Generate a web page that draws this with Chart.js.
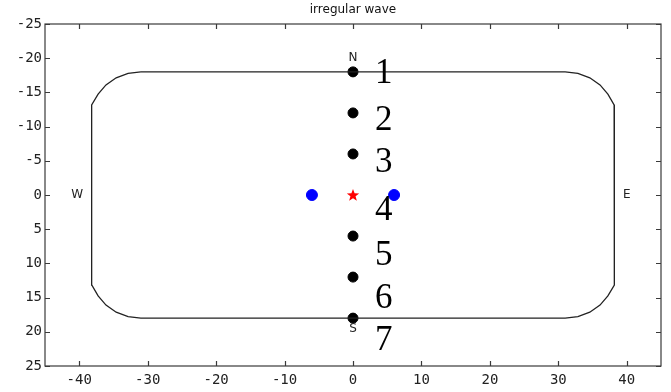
<!DOCTYPE html>
<html>
<head>
<meta charset="utf-8">
<script src="https://cdn.jsdelivr.net/npm/chart.js@4"></script>
<style>
  html, body { margin: 0; padding: 0; background: #fff; }
  #wrap { width: 671px; height: 392px; }
</style>
</head>
<body>
<div id="wrap"><canvas id="grafico" width="671" height="392"></canvas></div>
<script>
// DADOS
const titulo = "irregular wave";
const xTicks = [-40, -30, -20, -10, 0, 10, 20, 30, 40];
const yTicks = [-25, -20, -15, -10, -5, 0, 5, 10, 15, 20, 25];

// contorno da bacia (cantos arredondados)
const outlineX = [-31, 31, 32.86, 34.6, 36.09, 37.24, 38.15, 38.2,
  38.2, 38.15, 37.24, 36.09, 34.6, 32.86, 31,
  -31, -32.86, -34.6, -36.09, -37.24, -38.15, -38.2,
  -38.2, -38.15, -37.24, -36.09, -34.6, -32.86, -31];
const outlineY = [-18, -18, -17.78, -17.13, -16.1, -14.75, -13.18, -11.5,
  11.5, 13.18, 14.75, 16.1, 17.13, 17.78, 18,
  18, 17.78, 17.13, 16.1, 14.75, 13.18, 11.5,
  -11.5, -13.18, -14.75, -16.1, -17.13, -17.78, -18];

// sondas (pontos pretos)
const probeX = [0, 0, 0, 0, 0, 0];
const probeY = [-18, -12, -6, 6, 12, 18];

// pontos azuis
const blueX = [-6, 6];
const blueY = [0, 0];

// fonte (estrela vermelha)
const starX = [0];
const starY = [0];

// numeros ao lado das sondas
const numLabels = ["1", "2", "3", "4", "5", "6", "7"];
const numX = [4.5, 4.5, 4.5, 4.5, 4.5, 4.5, 4.5];
const numY = [-17.8, -11, -4.8, 2.1, 8.8, 15, 21.2];

// pontos cardeais
const dirLabels = ["N", "S", "W", "E"];
const dirX = [0, 0, -40.3, 40];
const dirY = [-20.1, 19.6, 0, 0];

function pts(xs, ys) {
  return xs.map((x, i) => ({ x: x, y: ys[i] }));
}

// estrela vermelha de 5 pontas
const starImg = document.createElement("canvas");
starImg.width = 14;
starImg.height = 14;
(function () {
  const c = starImg.getContext("2d");
  c.fillStyle = "#ff0000";
  c.beginPath();
  for (let i = 0; i < 10; i++) {
    const r = i % 2 === 0 ? 6.5 : 2.7;
    const a = -Math.PI / 2 + i * Math.PI / 5;
    const px = 7 + r * Math.cos(a);
    const py = 7.5 + r * Math.sin(a);
    if (i === 0) c.moveTo(px, py); else c.lineTo(px, py);
  }
  c.closePath();
  c.fill();
})();

const tickFamily = '"DejaVu Sans Mono", "Liberation Mono", monospace';

// moldura, marcas internas, titulo e textos
const extras = {
  id: "extras",
  afterDatasetsDraw(chart) {
    const ctx = chart.ctx;
    const a = chart.chartArea;
    const sx = chart.scales.x;
    const sy = chart.scales.y;
    ctx.save();

    ctx.strokeStyle = "#3a3a3a";
    ctx.lineWidth = 1.2;
    ctx.strokeRect(a.left, a.top, a.right - a.left, a.bottom - a.top);
    ctx.beginPath();
    xTicks.forEach(v => {
      const px = Math.round(sx.getPixelForValue(v)) + 0.5;
      ctx.moveTo(px, a.bottom); ctx.lineTo(px, a.bottom - 5);
      ctx.moveTo(px, a.top); ctx.lineTo(px, a.top + 5);
    });
    yTicks.forEach(v => {
      const py = Math.round(sy.getPixelForValue(v)) + 0.5;
      ctx.moveTo(a.left, py); ctx.lineTo(a.left + 5, py);
      ctx.moveTo(a.right, py); ctx.lineTo(a.right - 5, py);
    });
    ctx.stroke();

    ctx.fillStyle = "#111";
    ctx.textAlign = "center";
    ctx.textBaseline = "middle";
    ctx.font = '12px "DejaVu Sans", sans-serif';
    ctx.fillText(titulo, (a.left + a.right) / 2, 10);

    ctx.font = '12px "DejaVu Sans", sans-serif';
    ctx.fillStyle = "#222";
    dirLabels.forEach((t, i) => {
      ctx.fillText(t, sx.getPixelForValue(dirX[i]), sy.getPixelForValue(dirY[i]));
    });

    ctx.font = '35px "Liberation Serif", "DejaVu Serif", serif';
    ctx.fillStyle = "#000";
    numLabels.forEach((t, i) => {
      ctx.fillText(t, sx.getPixelForValue(numX[i]), sy.getPixelForValue(numY[i]) + 1);
    });
    ctx.restore();
  }
};

new Chart(document.getElementById("grafico"), {
  type: "scatter",
  data: {
    datasets: [
      {
        label: "contorno",
        data: pts(outlineX, outlineY),
        showLine: true,
        borderColor: "#222",
        borderWidth: 1.3,
        pointRadius: 0,
        tension: 0
      },
      {
        label: "sondas",
        data: pts(probeX, probeY),
        backgroundColor: "#000",
        borderColor: "#000",
        pointRadius: 5
      },
      {
        label: "azul",
        data: pts(blueX, blueY),
        backgroundColor: "#0000ff",
        borderColor: "#0000ff",
        pointRadius: 5.5
      },
      {
        label: "fonte",
        data: pts(starX, starY),
        pointStyle: starImg
      }
    ]
  },
  options: {
    responsive: false,
    animation: false,
    layout: { padding: { top: 24, right: 10, left: 0, bottom: 0 } },
    plugins: {
      legend: { display: false },
      title: { display: false },
      tooltip: { enabled: false }
    },
    scales: {
      x: {
        type: "linear",
        min: -45,
        max: 45,
        afterBuildTicks: s => { s.ticks = xTicks.map(v => ({ value: v })); },
        afterFit: s => { s.height = 26; },
        grid: { display: false, drawTicks: false },
        border: { display: false },
        ticks: { color: "#222", padding: 6, font: { family: tickFamily, size: 14 }, maxRotation: 0 }
      },
      y: {
        type: "linear",
        reverse: true,
        min: -25,
        max: 25,
        afterBuildTicks: s => { s.ticks = yTicks.map(v => ({ value: v })); },
        afterFit: s => { s.width = 45; },
        grid: { display: false, drawTicks: false },
        border: { display: false },
        ticks: { color: "#222", padding: 3, font: { family: tickFamily, size: 14 } }
      }
    }
  },
  plugins: [extras]
});
</script>
</body>
</html>
